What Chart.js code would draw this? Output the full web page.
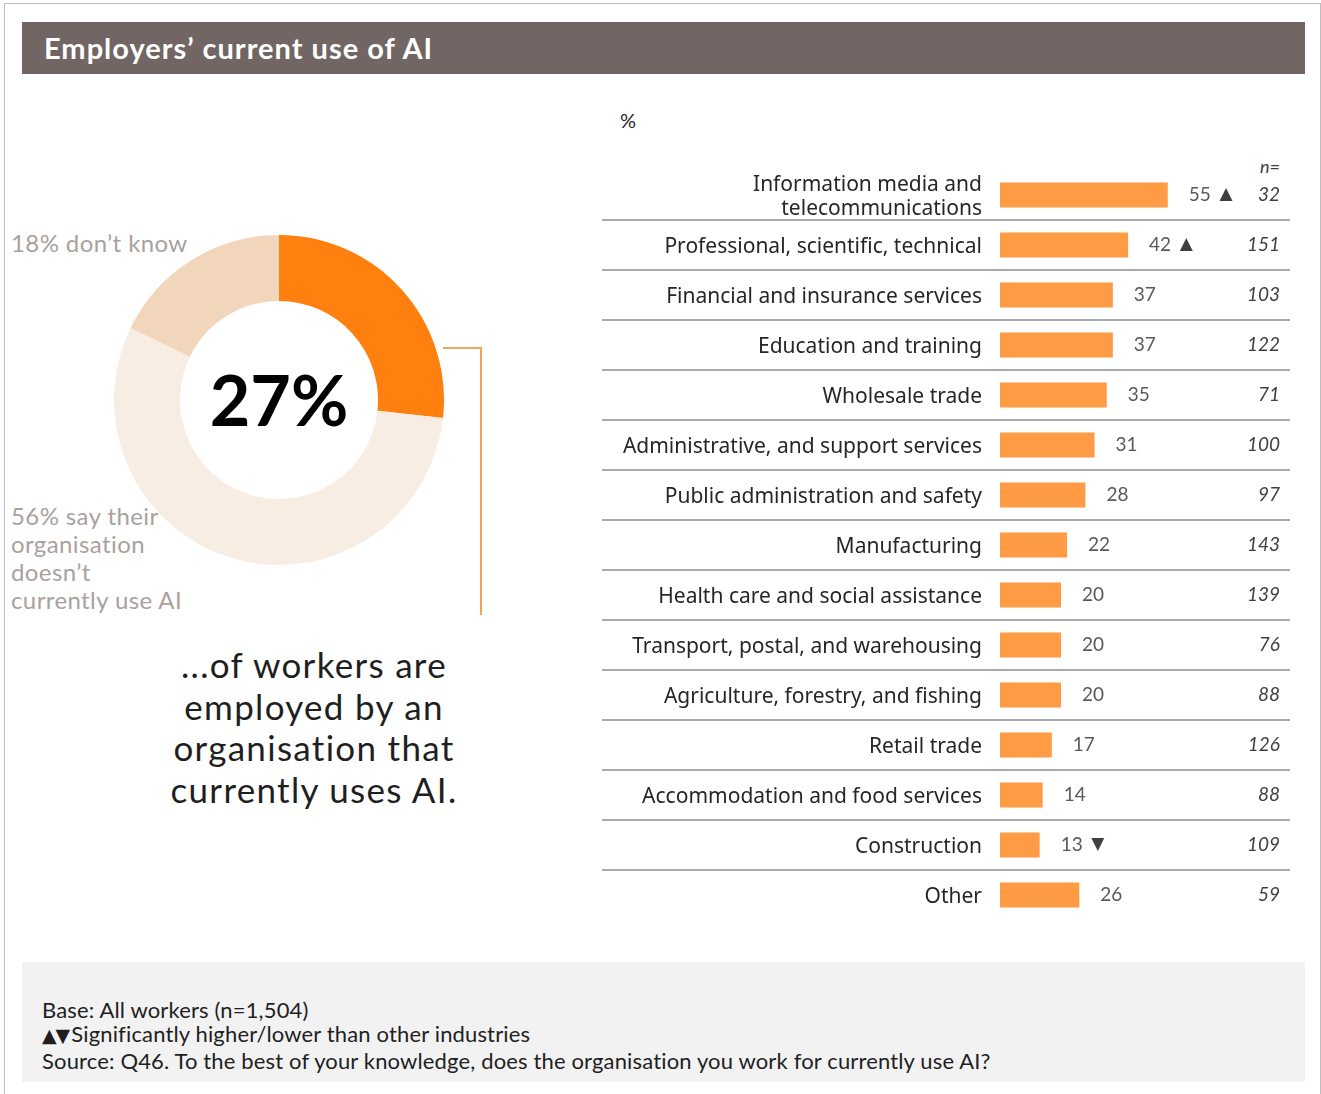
<!DOCTYPE html>
<html>
<head>
<meta charset="utf-8">
<title>Employers' current use of AI</title>
<script src="https://cdn.jsdelivr.net/npm/chart.js@4.4.1/dist/chart.umd.min.js"></script>
<style>
  body { margin: 0; background: #fff; font-family: Lato, "Noto Sans", sans-serif; }
  #page { position: relative; width: 1321px; height: 1094px; overflow: hidden; }
  #frame { position: absolute; left: 4px; top: 3px; width: 1315px; height: 1100px; border: 1px solid #BDBDBD; }
  #title {
    position: absolute; left: 22px; top: 22px; width: 1283px; height: 52px;
    background: #716663; color: #fff; font-weight: bold; font-size: 29px; letter-spacing: 1px;
    line-height: 52px; padding-left: 22px; box-sizing: border-box;
  }
  .note { position: absolute; color: #A9A19E; font-size: 24px; letter-spacing: 0.4px; }
  #dontKnow { left: 11px; top: 228px; line-height: 30px; }
  #notUsing { left: 11px; top: 502px; line-height: 28px; }
  #caption {
    position: absolute; left: 114px; top: 644px; width: 400px; text-align: center;
    font-size: 35px; line-height: 41.7px; color: #1f1f1f; letter-spacing: 1.3px;
  }
  .link { position: absolute; background: #F6A25C; }
  #donutBox { position: absolute; left: 114px; top: 235px; width: 330px; height: 330px; }
  #barBox { position: absolute; left: 600px; top: 100px; width: 705px; height: 840px; }
  #pct { position: absolute; left: 620px; top: 108px; font-size: 20px; color: #262626; }
  #nHead { position: absolute; left: 1230px; width: 50px; top: 155px; text-align: right; font-size: 18px; font-style: italic; color: #404040; }
  #footer {
    position: absolute; left: 22px; top: 962px; width: 1283px; height: 120px;
    background: #F2F2F2; color: #1f1f1f; font-size: 22px; letter-spacing: 0.15px;
  }
  #footer div { position: absolute; left: 20px; white-space: nowrap; line-height: 24px; }
  .sig { font-family: "DejaVu Sans"; font-size: 19px; letter-spacing: -1px; margin-right: 2px; }
</style>
</head>
<body>
<div id="page">
  <div id="frame"></div>
  <div id="title">Employers’ current use of AI</div>

  <div id="dontKnow" class="note"></div>
  <div id="notUsing" class="note"></div>
  <div id="donutBox"><canvas id="donut-chart"></canvas></div>
  <div class="link" style="left:443px; top:347px; width:39px; height:2px;"></div>
  <div class="link" style="left:480px; top:347px; width:2px; height:268px;"></div>
  <div id="caption">...of workers are<br>employed by an<br>organisation that<br>currently uses AI.</div>

  <div id="pct">%</div>
  <div id="nHead">n=</div>
  <div id="barBox"><canvas id="industry-chart"></canvas></div>

  <div id="footer">
    <div style="top:36px;">Base: All workers (n=1,504)</div>
    <div style="top:60px;"><span class="sig">▲▼</span>Significantly higher/lower than other industries</div>
    <div style="top:87px;">Source: Q46. To the best of your knowledge, does the organisation you work for currently use AI?</div>
  </div>
</div>

<script>
// Overall use of AI
const donutLabels = ["Currently uses AI", "Doesn’t currently use AI", "Don’t know"]
const donutPct = [27, 56, 18]
const donutColors = ["#FF800E", "#F8EDE3", "#F2D6BB"]

// Use of AI by industry
const industries = [
  ["Information media and", "telecommunications"],
  "Professional, scientific, technical",
  "Financial and insurance services",
  "Education and training",
  "Wholesale trade",
  "Administrative, and support services",
  "Public administration and safety",
  "Manufacturing",
  "Health care and social assistance",
  "Transport, postal, and warehousing",
  "Agriculture, forestry, and fishing",
  "Retail trade",
  "Accommodation and food services",
  "Construction",
  "Other",
]
const usePct = [55, 42, 37, 37, 35, 31, 28, 22, 20, 20, 20, 17, 14, 13, 26]
const sampleN = [32, 151, 103, 122, 71, 100, 97, 143, 139, 76, 88, 126, 88, 109, 59]
// 1 = significantly higher, -1 = significantly lower
const sigFlag = [1, 1, 0, 0, 0, 0, 0, 0, 0, 0, 0, 0, 0, -1, 0]

document.getElementById("dontKnow").textContent = `${donutPct[2]}% don’t know`
document.getElementById("notUsing").innerHTML =
  `${donutPct[1]}% say their<br>organisation<br>doesn’t<br>currently use AI`

// DONUT
const centerText = {
  id: "centerText",
  afterDraw(chart) {
    const { ctx } = chart
    const arc = chart.getDatasetMeta(0).data[0]
    ctx.save()
    ctx.font = "bold 70px Lato"
    ctx.fillStyle = "#000"
    ctx.textAlign = "center"
    ctx.textBaseline = "middle"
    ctx.fillText(`${donutPct[0]}%`, arc.x, arc.y + 3)
    ctx.restore()
  },
}

new Chart(document.getElementById("donut-chart"), {
  type: "doughnut",
  data: {
    labels: donutLabels,
    datasets: [{ data: donutPct, backgroundColor: donutColors, borderWidth: 0, hoverOffset: 0 }],
  },
  options: {
    responsive: true,
    maintainAspectRatio: false,
    animation: false,
    cutout: "60%",
    plugins: { legend: { display: false }, tooltip: { enabled: false } },
  },
  plugins: [centerText],
})

// INDUSTRY BARS
const rowExtras = {
  id: "rowExtras",
  afterDatasetsDraw(chart) {
    const { ctx, scales: { x, y } } = chart
    ctx.save()
    // row separators
    ctx.strokeStyle = "#AAAAAA"
    ctx.lineWidth = 2
    for (let i = 0; i < industries.length - 1; i++) {
      const yy = Math.round((y.getPixelForValue(i) + y.getPixelForValue(i + 1)) / 2)
      ctx.beginPath()
      ctx.moveTo(2, yy)
      ctx.lineTo(690, yy)
      ctx.stroke()
    }
    ctx.textBaseline = "middle"
    usePct.forEach((v, i) => {
      const yy = y.getPixelForValue(i)
      const xx = x.getPixelForValue(v) + 21
      ctx.font = "19px Lato"
      ctx.fillStyle = "#595959"
      ctx.textAlign = "left"
      ctx.fillText(String(v), xx, yy)
      if (sigFlag[i]) {
        ctx.fillStyle = "#404040"
        ctx.font = "17px DejaVu Sans"
        ctx.fillText(sigFlag[i] > 0 ? "▲" : "▼", xx + ctx.measureText("00").width + 9, yy)
      }
      ctx.font = "italic 19px Lato"
      ctx.fillStyle = "#404040"
      ctx.textAlign = "right"
      ctx.fillText(String(sampleN[i]), 680, yy)
    })
    ctx.restore()
  },
}

new Chart(document.getElementById("industry-chart"), {
  type: "bar",
  data: {
    labels: industries,
    datasets: [{
      data: usePct,
      backgroundColor: "#FF9A45",
      borderWidth: 0,
      barPercentage: 0.5,
      categoryPercentage: 1,
    }],
  },
  options: {
    indexAxis: "y",
    responsive: true,
    maintainAspectRatio: false,
    animation: false,
    layout: { padding: { top: 70, bottom: 20 } },
    scales: {
      x: { display: false, min: 0, max: 100 },
      y: {
        afterFit(scale) {
          scale.width = 400
          scale.paddingTop = 0
          scale.paddingBottom = 0
        },
        grid: { display: false, drawTicks: false },
        border: { display: false },
        ticks: {
          autoSkip: false,
          padding: 18,
          labelOffset: 2,
          color: "#262626",
          font: { family: "Noto Sans", size: 21, lineHeight: 1.15 },
        },
      },
    },
    plugins: { legend: { display: false }, tooltip: { enabled: false } },
  },
  plugins: [rowExtras],
})
</script>
</body>
</html>
